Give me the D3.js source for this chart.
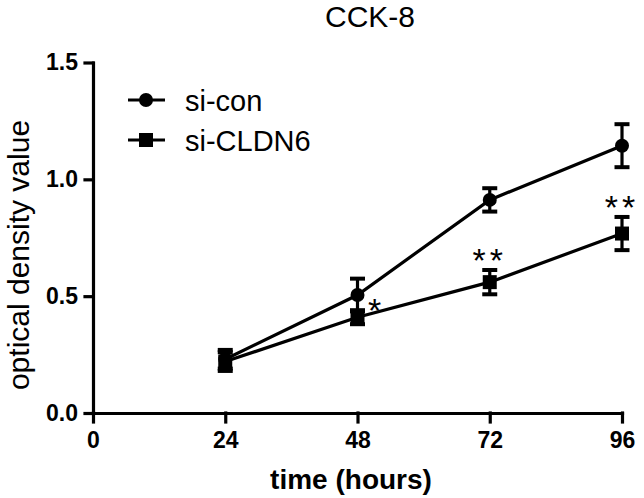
<!DOCTYPE html>
<html>
<head>
<meta charset="utf-8">
<script src="https://cdn.jsdelivr.net/npm/d3@7"></script>
<style>
  body { margin: 0; background: #fff; }
  svg { display: block; font-family: "Liberation Sans", Arial, sans-serif; }
</style>
</head>
<body>
<div id="root"></div>
<script>
// CCK-8 data
const hours = [24, 48, 72, 96];
const xTicks = [0, 24, 48, 72, 96];
const yTicks = [0, 0.5, 1.0, 1.5];
const siConMean = [0.23, 0.505, 0.912, 1.144];
const siConErr = [0.04, 0.07, 0.05, 0.092];
const siCldn6Mean = [0.22, 0.41, 0.56, 0.768];
const siCldn6Err = [0.04, 0.03, 0.052, 0.071];
const stars = ['', '*', '**', '**'];

const W = 644, H = 498;
const x = d3.scaleLinear().domain([0, 96]).range([93, 622]);
const y = d3.scaleLinear().domain([0, 1.5]).range([413, 62.5]);

const svg = d3.select('#root').append('svg').attr('width', W).attr('height', H);

// title
svg.append('text')
  .attr('x', 370).attr('y', 27)
  .attr('text-anchor', 'middle')
  .attr('font-size', 30)
  .text('CCK-8');

// axes
const yAxis = svg.append('g')
  .attr('transform', `translate(${x(0)},0)`)
  .call(d3.axisLeft(y).tickValues(yTicks).tickFormat(d3.format('.1f')).tickSize(8).tickSizeOuter(0).tickPadding(7));
const xAxis = svg.append('g')
  .attr('transform', `translate(0,${y(0)})`)
  .call(d3.axisBottom(x).tickValues(xTicks).tickSize(9).tickSizeOuter(0).tickPadding(10));

[yAxis, xAxis].forEach(g => {
  g.selectAll('path, line').attr('stroke', '#000').attr('stroke-width', 3.2).attr('stroke-linecap', 'square');
  g.selectAll('text')
    .attr('fill', '#000')
    .attr('font-family', '"Liberation Sans", Arial, sans-serif')
    .attr('font-size', 23)
    .attr('font-weight', 'bold');
});

// axis titles
svg.append('text')
  .attr('x', 351).attr('y', 489)
  .attr('text-anchor', 'middle')
  .attr('font-size', 28)
  .attr('font-weight', 'bold')
  .text('time (hours)');

svg.append('text')
  .attr('transform', 'translate(29,255) rotate(-90)')
  .attr('text-anchor', 'middle')
  .attr('font-size', 30)
  .text('optical density value');

const series = [
  { name: 'si-con', mean: siConMean, err: siConErr, shape: 'circle' },
  { name: 'si-CLDN6', mean: siCldn6Mean, err: siCldn6Err, shape: 'square' }
];

const line = d3.line().x(d => x(d[0])).y(d => y(d[1]));

const drawMarker = (g, shape, cx, cy) => {
  if (shape === 'circle') {
    g.append('circle').attr('cx', cx).attr('cy', cy).attr('r', 7).attr('fill', '#000');
  } else {
    g.append('rect').attr('x', cx - 7).attr('y', cy - 7).attr('width', 14).attr('height', 14).attr('fill', '#000');
  }
};

series.forEach(s => {
  const pts = hours.map((h, i) => [h, s.mean[i], s.err[i]]);
  const g = svg.append('g');
  g.append('path')
    .attr('d', line(pts))
    .attr('fill', 'none')
    .attr('stroke', '#000')
    .attr('stroke-width', 3.2);

  pts.forEach(([h, m, e]) => {
    const cx = x(h);
    g.append('line').attr('x1', cx).attr('x2', cx).attr('y1', y(m - e)).attr('y2', y(m + e))
      .attr('stroke', '#000').attr('stroke-width', 3.2);
    [m - e, m + e].forEach(v => {
      g.append('line').attr('x1', cx - 7.5).attr('x2', cx + 7.5).attr('y1', y(v)).attr('y2', y(v))
        .attr('stroke', '#000').attr('stroke-width', 4);
    });
    drawMarker(g, s.shape, cx, y(m));
  });
});

// significance marks for si-CLDN6
hours.forEach((h, i) => {
  if (!stars[i]) return;
  const single = stars[i].length === 1;
  const cx = single ? x(h) + 17 : x(h);
  const cy = single ? y(siCldn6Mean[i]) - 14 : y(siCldn6Mean[i] + siCldn6Err[i]) - 17;
  svg.append('text')
    .attr('x', cx).attr('y', cy + 19)
    .attr('text-anchor', 'middle')
    .attr('font-size', 34)
    .attr('letter-spacing', single ? 0 : 4)
    .text(stars[i]);
});

// legend
const legend = svg.append('g');
series.forEach((s, i) => {
  const ly = 100 + i * 40;
  legend.append('line').attr('x1', 128).attr('x2', 165).attr('y1', ly).attr('y2', ly)
    .attr('stroke', '#000').attr('stroke-width', 3.2);
  drawMarker(legend, s.shape, 146, ly);
  legend.append('text').attr('x', 185).attr('y', ly + 11).attr('font-size', 29).text(s.name);
});
</script>
</body>
</html>
